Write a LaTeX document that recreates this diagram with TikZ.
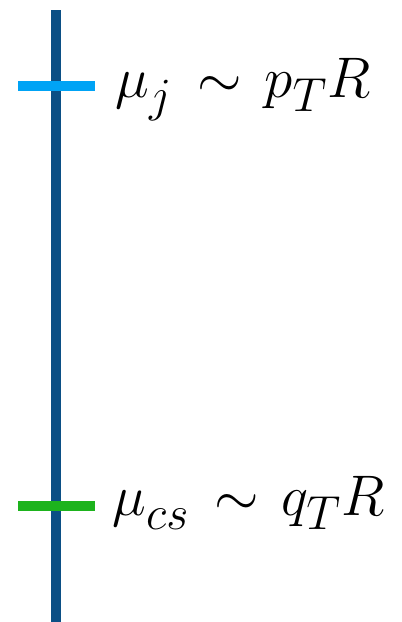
\documentclass[tikz,border=0pt]{standalone}
\usepackage{amsmath}
\definecolor{axisblue}{HTML}{0B4F85}
\definecolor{tickblue}{HTML}{00A3F5}
\definecolor{tickgreen}{HTML}{1DB31D}
\newcommand{\lsub}[1]{_{\lower2.5pt\hbox{$\scriptstyle #1$}}}
\begin{document}
\begin{tikzpicture}[x=1pt,y=-1pt,
  axisline/.style={draw=axisblue,line width=10pt},
  tickline/.style={line width=10.5pt},
  lbl/.style={anchor=base west,inner sep=0pt,font=\Huge,scale=2.3}]
\useasboundingbox (0,0) rectangle (402,622);
\coordinate (top) at (56,10);
\coordinate (bot) at (56,622);
\draw[axisline] (top) -- (bot);
\coordinate (t1a) at (18,86);
\coordinate (t1b) at (95,86);
\coordinate (t2a) at (18,506);
\coordinate (t2b) at (95,506);
\draw[tickline,draw=tickblue] (t1a) -- (t1b);
\draw[tickline,draw=tickgreen] (t2a) -- (t2b);
\node[lbl] (l1) at (115,97) {$\mu\lsub{j}\, \sim\mskip2mu p\lsub{T} R$};
\node[lbl] (l2) at (112,515) {$\mu\lsub{cs}\, \sim\mskip2mu q\lsub{T} R$};
\end{tikzpicture}
\end{document}
